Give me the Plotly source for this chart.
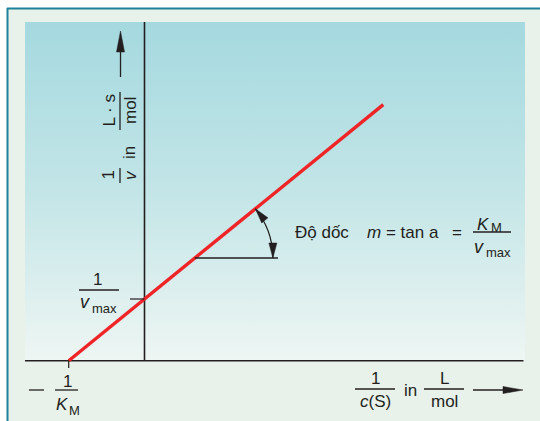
import math
import plotly.graph_objects as go

# ---------------- data (Lineweaver-Burk plot) ----------------
inv_S = [-1.0, 3.15]      # 1/c(S): line runs from -1/K_M to end of plot
inv_v = [0.0, 4.15]       # 1/v values at those points
inv_KM_neg = -1.0         # x-intercept  (-1/K_M)
inv_vmax = 1.0            # y-intercept  (1/v_max)

# ---------------- layout constants (pixels) ----------------
W, H = 540, 421
OX, OY = 144.5, 360.7     # pixel position of data origin
UX, UY = 75.8, 61.7       # pixels per data unit
FONT = "Liberation Sans, Arial, sans-serif"
INK = "#231f20"
RED = "#ee2427"


def dx2px(x):
    return OX + x * UX


def dy2px(y):
    return OY - y * UY


fig = go.Figure()

# gradient panel (pixel axes x/y)
fig.add_trace(go.Scatter(
    x=[25, 525, 525, 25, 25], y=[22, 22, 361, 361, 22],
    mode="none", fill="toself", hoverinfo="skip", showlegend=False,
    fillgradient=dict(type="vertical", start=22, stop=361,
                      colorscale=[[0, "#a4d9df"], [0.5, "#c3e5e7"], [1, "#eef6f3"]]),
))

# axis lines
fig.add_trace(go.Scatter(x=[25, 523.5], y=[OY, OY], mode="lines",
                         line=dict(color=INK, width=1.6), hoverinfo="skip", showlegend=False))
fig.add_trace(go.Scatter(x=[OX, OX], y=[22, OY], mode="lines",
                         line=dict(color=INK, width=1.6), hoverinfo="skip", showlegend=False))

# red regression line on data axes
fig.add_trace(go.Scatter(x=inv_S, y=inv_v, xaxis="x2", yaxis="y2", mode="lines",
                         line=dict(color=RED, width=3.4), hoverinfo="skip", showlegend=False))

shapes = []
# white/outer frame
shapes.append(dict(type="rect", xref="x", yref="y", x0=8, x1=541, y0=9, y1=422,
                   fillcolor="#e8f2ea", line=dict(width=0), layer="below"))
shapes.append(dict(type="line", xref="x", yref="y", x0=7, x1=541, y0=8.5, y1=8.5,
                   line=dict(color="#1f8197", width=2), layer="below"))
shapes.append(dict(type="line", xref="x", yref="y", x0=7.5, x1=7.5, y0=8, y1=422,
                   line=dict(color="#1f8197", width=2), layer="below"))

# ticks at intercepts
shapes.append(dict(type="line", xref="x", yref="y", x0=130, x1=OX,
                   y0=dy2px(inv_vmax), y1=dy2px(inv_vmax), line=dict(color=INK, width=1.2)))
shapes.append(dict(type="line", xref="x", yref="y", x0=dx2px(inv_KM_neg), x1=dx2px(inv_KM_neg),
                   y0=OY, y1=368, line=dict(color=INK, width=1.2)))


def seg(x0, y0, x1, y1, w=1.3):
    shapes.append(dict(type="line", xref="x", yref="y", x0=x0, x1=x1, y0=y0, y1=y1,
                       line=dict(color=INK, width=w)))


def head(tip, d, length=15, half=4):
    tx, ty = tip
    n = math.hypot(*d)
    ux, uy = d[0] / n, d[1] / n
    bx, by = tx - ux * length, ty - uy * length
    px, py = -uy * half, ux * half
    path = "M {:.2f},{:.2f} L {:.2f},{:.2f} L {:.2f},{:.2f} Z".format(
        tx, ty, bx + px, by + py, bx - px, by - py)
    shapes.append(dict(type="path", xref="x", yref="y", path=path,
                       fillcolor=INK, line=dict(color=INK, width=0.5)))


# y-label arrow
seg(120.5, 77, 120.5, 50)
head((120.5, 31), (0, -1), length=21, half=4)
# x-label arrow
seg(473, 390, 506, 390)
head((523, 390), (1, 0), length=20, half=3.5)

# fraction bars & minus
seg(120, 168, 120, 183)      # 1/v
seg(120, 92, 120, 130)       # L.s / mol
seg(79, 290, 119, 290)       # 1/vmax
seg(55, 390, 78, 390)        # 1/KM
seg(29, 390, 44, 390)        # minus
seg(355, 389, 395, 389)      # 1/c(S)
seg(424, 389, 464, 389)      # L/mol
seg(473, 232, 511, 232)      # KM/vmax

# angle construction
ang_y = 258.0
data_y = (OY - ang_y) / UY
slope = (inv_v[1] - inv_v[0]) / (inv_S[1] - inv_S[0])
data_x = inv_S[0] + (data_y - inv_v[0]) / slope
cx, cy = dx2px(data_x), ang_y
theta = math.atan2((inv_v[1] - inv_v[0]) * UY, (inv_S[1] - inv_S[0]) * UX)
seg(cx, cy, 278, cy, 1.3)
r = 78.0
k = 4.0 / 3.0 * math.tan(theta / 4.0)
p0 = (cx + r, cy)
p3 = (cx + r * math.cos(theta), cy - r * math.sin(theta))
p1 = (p0[0], p0[1] - k * r)
p2 = (p3[0] + k * r * math.sin(theta), p3[1] + k * r * math.cos(theta))
shapes.append(dict(type="path", xref="x", yref="y",
                   path="M {:.2f},{:.2f} C {:.2f},{:.2f} {:.2f},{:.2f} {:.2f},{:.2f}".format(
                       *p0, *p1, *p2, *p3),
                   line=dict(color=INK, width=1.2)))
head(p0, (0, 1), length=15, half=4)
head(p3, (-math.sin(theta), -math.cos(theta)), length=15, half=4)

annotations = []


def txt(x, y, text, size=17, angle=0, xanchor="center"):
    annotations.append(dict(xref="x", yref="y", x=x, y=y, text=text, showarrow=False,
                            textangle=angle, xanchor=xanchor, yanchor="middle",
                            font=dict(family=FONT, size=size, color=INK)))


# y-axis label (rotated)
txt(107.5, 175, "1", angle=-90)
txt(130, 175, "<i>v</i>", angle=-90)
txt(129, 153, "in", angle=-90)
txt(108.5, 111, "L · s", angle=-90)
txt(130, 111, "mol", angle=-90)

# 1/vmax
txt(97, 279, "1")
txt(85, 302, "<i>v</i>", size=18)
txt(104, 308, "max", size=13)

# -1/KM
txt(67, 381, "1")
txt(61.5, 404, "<i>K</i>")
txt(74, 410, "M", size=13)

# x-axis label
txt(375, 378, "1")
txt(375, 401, "<i>c</i>(S)")
txt(410.5, 390, "in")
txt(444, 378, "L")
txt(444, 401, "mol")

# slope formula
txt(293, 232, "Độ dốc", xanchor="left")
txt(365, 232, "<i>m</i> = tan a", xanchor="left")
txt(456.5, 232, "=")
txt(483, 224, "<i>K</i>")
txt(496, 227, "M", size=13)
txt(479, 247, "<i>v</i>", size=18)
txt(498.5, 252, "max", size=13)

fig.update_layout(
    width=W, height=H, margin=dict(l=0, r=0, t=0, b=0),
    paper_bgcolor="white", plot_bgcolor="white",
    shapes=shapes, annotations=annotations, showlegend=False,
    xaxis=dict(range=[0, W], visible=False, fixedrange=True, domain=[0, 1]),
    yaxis=dict(range=[H, 0], visible=False, fixedrange=True, domain=[0, 1]),
    xaxis2=dict(range=[(0 - OX) / UX, (W - OX) / UX], overlaying="x", visible=False,
                fixedrange=True),
    yaxis2=dict(range=[(OY - H) / UY, OY / UY], overlaying="y", visible=False,
                fixedrange=True),
)

fig.write_html("out.html", config={"displayModeBar": False},
               post_script="document.body.style.margin='0';document.body.style.overflow='hidden';")
